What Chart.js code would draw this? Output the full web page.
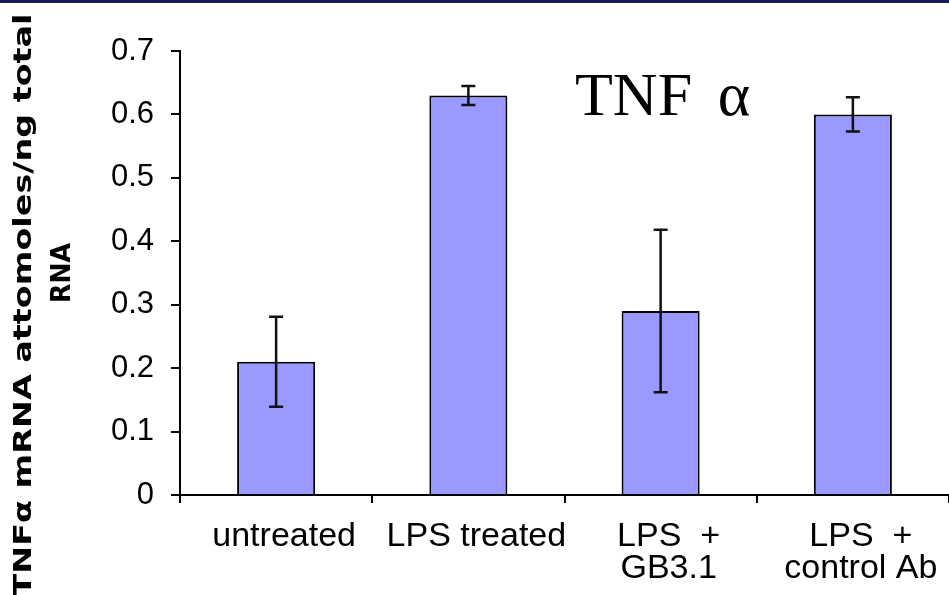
<!DOCTYPE html>
<html><head><meta charset="utf-8">
<script src="https://cdn.jsdelivr.net/npm/chart.js@4"></script>
<style>
html,body{margin:0;padding:0;background:#fff;overflow:hidden;}
#wrap{position:relative;width:949px;height:595px;}
#topbar{position:absolute;left:0;top:0;width:949px;height:3px;background:#1b1b55;}
</style>
</head><body>
<div id="wrap"><canvas id="c" width="949" height="595"></canvas><div id="topbar"></div></div>
<script>
const categories = ['untreated', 'LPS treated', ['LPS  +', 'GB3.1'], ['LPS  +', 'control Ab']];
const values = [0.21, 0.63, 0.29, 0.60];
const errors = [0.071, 0.015, 0.128, 0.027];
const yTickValues = [0, 0.1, 0.2, 0.3, 0.4, 0.5, 0.6, 0.7];
const yTitleLines = ['TNFα mRNA attomoles/ng total', 'RNA'];
const annotationText = 'TNF α';

const errorBarPlugin = {
  id: 'errorBars',
  afterDatasetsDraw(chart) {
    const ctx = chart.ctx;
    const meta = chart.getDatasetMeta(0);
    const y = chart.scales.y;
    ctx.save();
    ctx.strokeStyle = '#111';
    ctx.lineWidth = 2.5;
    meta.data.forEach((el, i) => {
      const x = el.x;
      const top = y.getPixelForValue(values[i] + errors[i]);
      const bot = y.getPixelForValue(values[i] - errors[i]);
      ctx.beginPath();
      ctx.moveTo(x, top); ctx.lineTo(x, bot);
      ctx.moveTo(x - 7, top); ctx.lineTo(x + 7, top);
      ctx.moveTo(x - 7, bot); ctx.lineTo(x + 7, bot);
      ctx.stroke();
    });
    ctx.restore();
  }
};

function drawRotated(ctx, text, cx, cy, size, stretch) {
  ctx.save();
  ctx.fillStyle = '#000';
  ctx.font = 'bold ' + size + 'px "DejaVu Sans", Verdana, sans-serif';
  ctx.textAlign = 'center';
  ctx.textBaseline = 'middle';
  ctx.translate(cx, cy);
  ctx.rotate(-Math.PI / 2);
  ctx.scale(stretch, 1);
  ctx.fillText(text, 0, 0);
  ctx.restore();
}

const textPlugin = {
  id: 'texts',
  afterDraw(chart) {
    const ctx = chart.ctx;
    const ca = chart.chartArea;
    ctx.save();
    ctx.fillStyle = '#000';
    ctx.font = '62px "Liberation Serif", "Times New Roman", serif';
    try { ctx.wordSpacing = '10px'; } catch (e) {}
    ctx.textBaseline = 'alphabetic';
    ctx.textAlign = 'left';
    ctx.fillText(annotationText, 575, 115);
    ctx.restore();
    drawRotated(ctx, yTitleLines[0], 25, 305, 24, 1.39);
    drawRotated(ctx, yTitleLines[1], 63, (ca.top + ca.bottom) / 2, 26, 0.97);
  }
};

new Chart(document.getElementById('c'), {
  type: 'bar',
  data: {
    labels: categories,
    datasets: [{
      data: values,
      backgroundColor: '#9999ff',
      borderColor: '#000',
      borderWidth: 2,
      categoryPercentage: 1,
      barPercentage: 0.406
    }]
  },
  options: {
    responsive: false,
    animation: false,
    devicePixelRatio: 1,
    layout: { padding: { top: 51, right: 0, bottom: 0, left: 0 } },
    plugins: { legend: { display: false }, tooltip: { enabled: false }, title: { display: false } },
    scales: {
      x: {
        afterFit(scale) { scale.height = 100; },
        grid: { display: true, offset: true, drawOnChartArea: false, drawTicks: true, tickLength: 8, color: '#000', lineWidth: 2 },
        border: { display: true, color: '#000', width: 2 },
        ticks: {
          color: '#000', autoSkip: false, maxRotation: 0, minRotation: 0, padding: 17, labelOffset: 8,
          font: { family: '"Liberation Sans", Arial, sans-serif', size: 34, lineHeight: 0.95 }
        }
      },
      y: {
        min: 0, max: 0.7,
        afterFit(scale) { scale.width = 180; },
        afterBuildTicks(scale) { scale.ticks = yTickValues.map(v => ({ value: v })); },
        grid: { display: true, drawOnChartArea: false, drawTicks: true, tickLength: 9, color: '#000', lineWidth: 2 },
        border: { display: true, color: '#000', width: 2 },
        ticks: {
          color: '#000', padding: 17,
          font: { family: '"Liberation Sans", Arial, sans-serif', size: 31 },
          callback: (v) => (v === 0 ? '0' : Number(v).toFixed(1))
        }
      }
    }
  },
  plugins: [errorBarPlugin, textPlugin]
});
</script>
</body></html>
